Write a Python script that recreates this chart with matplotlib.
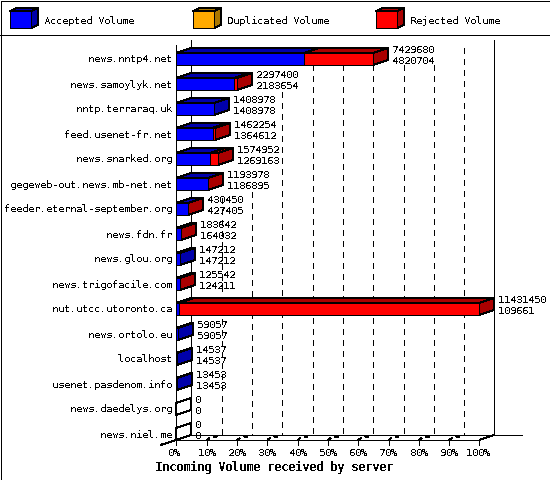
import matplotlib
matplotlib.use('Agg')
import matplotlib.pyplot as plt
from matplotlib.patches import Polygon, Rectangle

plt.rcParams['text.antialiased'] = False
plt.rcParams['text.hinting_factor'] = 1
plt.rcParams['text.hinting'] = 'native'

# Server names, top row first
hosts = ['news.nntp4.net', 'news.samoylyk.net', 'nntp.terraraq.uk', 'feed.usenet-fr.net',
         'news.snarked.org', 'gegeweb-out.news.mb-net.net', 'feeder.eternal-september.org',
         'news.fdn.fr', 'news.glou.org', 'news.trigofacile.com', 'nut.utcc.utoronto.ca',
         'news.ortolo.eu', 'localhost', 'usenet.pasdenom.info', 'news.daedelys.org', 'news.niel.me']
total = [7429680, 2297400, 1408978, 1462254, 1574952, 1193978, 430450, 183642,
         147212, 125542, 11431450, 59057, 14537, 13453, 0, 0]
accepted = [4820704, 2183654, 1408978, 1364612, 1269163, 1186895, 427405, 164032,
            147212, 124211, 109661, 59057, 14537, 13453, 0, 0]
legend_names = ['Accepted Volume', 'Duplicated Volume', 'Rejected Volume']
x_ticks = [0, 10, 20, 30, 40, 50, 60, 70, 80, 90, 100]
max_volume = max(total)

BLUE, DARK_BLUE = '#0000ff', '#0000aa'
ORANGE, DARK_ORANGE = '#ffaa00', '#aa7700'
RED, DARK_RED = '#ff0000', '#aa0000'
MONO = 'DejaVu Sans Mono'
FS = 7.2
LW = 0.72

# pixel layout: 1 percent = 3.03 px, 1 row = 25 px
PX_X = 3.03
PX_Y = 25.0
X0 = 176.4
Y0 = 59.0


def dx(px):
    return px / PX_X


def dy(px):
    return px / PX_Y


def row_of(y_px):
    return (y_px - Y0) / PX_Y


fig = plt.figure(figsize=(5.5, 4.8), dpi=100)
ax = fig.add_axes([0, 0, 1, 1])
ax.set_xlim(-X0 / PX_X, (550 - X0) / PX_X)
ax.set_ylim(row_of(480), row_of(0))
ax.axis('off')


def line(xs, ys, **kw):
    kw.setdefault('color', 'black')
    kw.setdefault('lw', LW)
    ax.plot(xs, ys, antialiased=False, solid_capstyle='butt', **kw)


def poly(points, color, zorder=3):
    ax.add_patch(Polygon(points, closed=True, facecolor=color, edgecolor='black',
                         lw=LW, antialiased=False, zorder=zorder))


DEPTH_X = dx(15)
DEPTH_Y = dy(5)
HALF = dy(6)
floor_front = row_of(440)
floor_back = row_of(435)

# back wall, dashed grid, floor
line([dx(15), dx(15)], [row_of(40), floor_back], zorder=1)
line([100 + dx(15), 100 + dx(15)], [row_of(40), floor_back], zorder=1)
line([0, 0], [row_of(45), floor_front], zorder=2)
grid_tops = [198, 192, 92, 65, 65, 65, 65, 65, 48]
for t, top in zip(x_ticks[1:-1], grid_tops):
    ax.plot([t + DEPTH_X] * 2, [row_of(top), floor_back], color='black', lw=LW,
            ls=(0, (5.5, 5.5)), antialiased=False, zorder=1)
line([DEPTH_X, 100 + dx(43)], [floor_back, floor_back], zorder=1)
line([0, 100], [floor_front, floor_front], zorder=1)
line([-dx(16), 0], [row_of(445), floor_front], zorder=1)
line([100, 100 + DEPTH_X], [floor_front, floor_back], zorder=1)
for t in x_ticks:
    line([t, t], [floor_front, row_of(445)], zorder=1)
    if 0 < t < 100:
        line([t, t + dx(3)], [floor_front, row_of(438)], zorder=1)
        line([t + dx(7), t + dx(10)], [row_of(437), row_of(436)], lw=1.5, zorder=1)
    if t == 0:
        off = -8
    elif t == 100:
        off = -13
    else:
        off = -9
    ax.text(t + dx(off), row_of(453.5), f'{t}%', family=MONO, fontsize=FS, ha='left', va='center')

# bars
for r, (host, tot, acc) in enumerate(zip(hosts, total, accepted)):
    a = acc / max_volume * 100
    b = tot / max_volume * 100
    top, bot = r - HALF, r + HALF
    if tot > 0:
        top_blue, front_blue = DARK_BLUE, BLUE
        side = DARK_RED if b > a else DARK_BLUE
    else:
        top_blue, front_blue, side = 'none', 'none', 'none'
    # top faces
    poly([(0, top), (a, top), (a + DEPTH_X, top - DEPTH_Y), (DEPTH_X, top - DEPTH_Y)], top_blue)
    if b > a:
        poly([(a, top), (b, top), (b + DEPTH_X, top - DEPTH_Y), (a + DEPTH_X, top - DEPTH_Y)], DARK_RED)
    # side face
    poly([(b, top), (b + DEPTH_X, top - DEPTH_Y), (b + DEPTH_X, bot - DEPTH_Y), (b, bot)], side)
    # front faces
    poly([(0, top), (a, top), (a, bot), (0, bot)], front_blue)
    if b > a:
        poly([(a, top), (b, top), (b, bot), (a, bot)], RED)
    ax.text(-dx(4.5), r + dy(0.5), host, family=MONO, fontsize=FS, ha='right', va='center', zorder=5)
    lx = b + DEPTH_X + dx(4)
    ax.text(lx, r - dy(9), str(tot), family=MONO, fontsize=FS, ha='left', va='center', zorder=5)
    ax.text(lx, r + dy(2), str(acc), family=MONO, fontsize=FS, ha='left', va='center', zorder=5)

ax.text(dx(274 - X0), row_of(467.5), 'Incoming Volume received by server', family=MONO,
        weight='bold', fontsize=8.4, ha='center', va='center')

# legend band
line([dx(-X0), dx(550 - X0)], [row_of(35), row_of(35)], zorder=1)
legend_x = [10, 193, 376]
legend_front = [BLUE, ORANGE, RED]
legend_dark = [DARK_BLUE, DARK_ORANGE, DARK_RED]
for name, lx, c, d in zip(legend_names, legend_x, legend_front, legend_dark):
    x1, x2 = dx(lx - X0), dx(lx + 21 - X0)
    y1, y2 = row_of(11), row_of(28)
    ox, oy = dx(7), dy(3)
    poly([(x1, y1), (x2, y1), (x2 + ox, y1 - oy), (x1 + ox, y1 - oy)], d)
    poly([(x2, y1), (x2 + ox, y1 - oy), (x2 + ox, y2 - oy), (x2, y2)], d)
    poly([(x1, y1), (x2, y1), (x2, y2), (x1, y2)], c)
    ax.text(dx(lx + 34 - X0), row_of(20.5), name, family=MONO, fontsize=FS, ha='left', va='center')

# outer frame
ax.add_patch(Rectangle((dx(0.5 - X0), row_of(0.5)), dx(549), dy(479), fill=False, edgecolor='black',
                       lw=LW, antialiased=False, zorder=6))

fig.savefig('out.png', dpi=100)
